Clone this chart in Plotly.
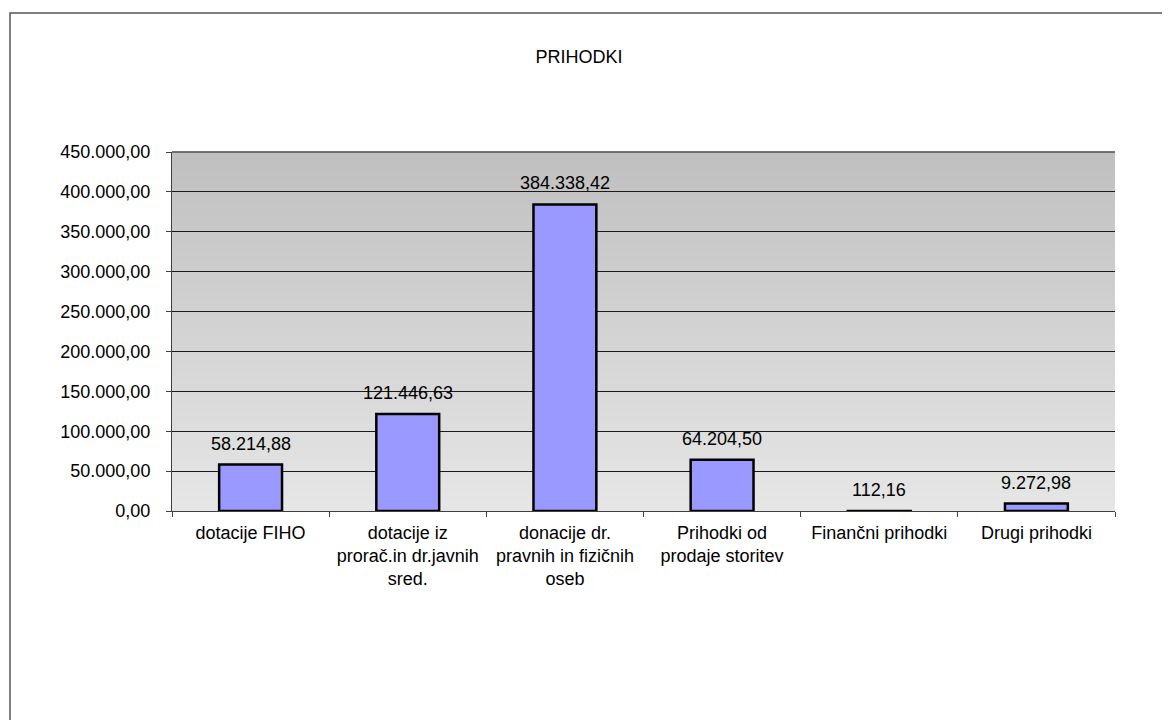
import plotly.graph_objects as go

categories = [
    "dotacije FIHO",
    "dotacije iz<br>prorač.in dr.javnih<br>sred.",
    "donacije dr.<br>pravnih in fizičnih<br>oseb",
    "Prihodki od<br>prodaje storitev",
    "Finančni prihodki",
    "Drugi prihodki",
]
values = [58214.88, 121446.63, 384338.42, 64204.50, 112.16, 9272.98]
labels = ["58.214,88", "121.446,63", "384.338,42", "64.204,50", "112,16", "9.272,98"]
y_ticks = [0, 50000, 100000, 150000, 200000, 250000, 300000, 350000, 400000, 450000]

FONT = "Liberation Sans, Arial, sans-serif"
FS = 18

# page body has an 8px default margin; compensate so the chart lands on the 1170x720 frame
OFF = 8
W, H = 1170 - OFF, 720 - OFF
L, R, T, B = 172 - OFF, 55, 152 - OFF, 209
PW, PH = W - L - R, H - T - B

fig = go.Figure()
fig.add_trace(go.Bar(
    x=categories,
    y=values,
    marker=dict(color="#9999FF", line=dict(color="#000000", width=2.5)),
    width=0.4,
    hoverinfo="skip",
))

annotations = [
    dict(x=c, y=v, text=t, xref="x", yref="y", showarrow=False,
         yanchor="bottom", yshift=9,
         font=dict(family=FONT, size=FS, color="#000000"))
    for c, v, t in zip(categories, values, labels)
]

shapes = []
N = 80
top = (192, 192, 192)
bot = (230, 230, 230)
for i in range(N):
    t = i / (N - 1)
    c = tuple(int(round(bot[k] + (top[k] - bot[k]) * t)) for k in range(3))
    shapes.append(dict(
        type="rect", xref="x domain", yref="y domain",
        x0=0, x1=1, y0=i / N, y1=(i + 1) / N + 0.002,
        fillcolor="rgb(%d,%d,%d)" % c, line=dict(width=0), layer="below",
    ))
# top gridline (at range edge)
shapes.append(dict(
    type="line", xref="x domain", yref="y domain", x0=0, x1=1, y0=1, y1=1,
    line=dict(color="#1a1a1a", width=1), layer="above",
))
# outer chart border
shapes.append(dict(
    type="rect", xref="paper", yref="paper",
    x0=(10 - 172) / PW, x1=1.3, y0=-0.8, y1=(511 - 13) / PH,
    line=dict(color="#555555", width=1.5), fillcolor="rgba(0,0,0,0)", layer="above",
))

fig.update_layout(
    width=W, height=H,
    margin=dict(l=L, r=R, t=T, b=B, pad=0),
    paper_bgcolor="#FFFFFF",
    plot_bgcolor="#E0E0E0",
    separators=",.",
    showlegend=False,
    bargap=0.6,
    font=dict(family=FONT, size=FS, color="#000000"),
    title=dict(
        text="PRIHODKI", x=(579 - OFF) / W, xanchor="center",
        y=1 - (57 - OFF) / H, yanchor="middle",
        font=dict(family=FONT, size=18, color="#000000"),
    ),
    shapes=shapes,
    annotations=annotations,
)
fig.update_yaxes(
    range=[0, 450000],
    tickvals=y_ticks,
    tickformat=",.2f",
    showgrid=True, gridcolor="#1a1a1a", gridwidth=1,
    showline=True, linecolor="#404040", linewidth=1,
    ticks="outside", ticklen=5, tickcolor="#404040",
    ticklabelstandoff=12,
    tickfont=dict(family=FONT, size=FS, color="#000000"),
    zeroline=False,
    fixedrange=True,
)
fig.update_xaxes(
    showline=True, linecolor="#404040", linewidth=1,
    ticks="outside", ticklen=5, tickcolor="#404040",
    tickson="boundaries",
    ticklabelstandoff=5,
    tickfont=dict(family=FONT, size=FS, color="#000000"),
    tickangle=0,
    fixedrange=True,
)

fig.write_html("out.html")
